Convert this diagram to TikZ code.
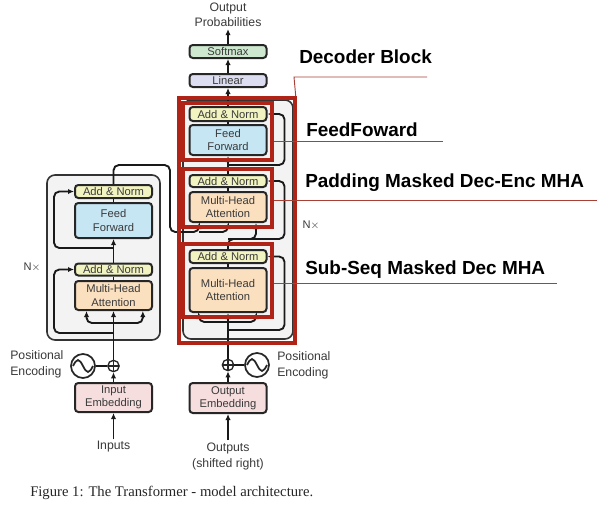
\documentclass[tikz,border=0pt]{standalone}
\usepackage{fontspec}
\setmainfont{Liberation Serif}
\setsansfont{Liberation Sans}
\usetikzlibrary{arrows.meta,positioning}
\definecolor{an_yellow}{RGB}{241,243,192}
\definecolor{ff_blue}{RGB}{198,230,244}
\definecolor{mha_orange}{RGB}{251,224,192}
\definecolor{emb_pink}{RGB}{246,222,222}
\definecolor{sm_green}{RGB}{206,232,208}
\definecolor{lin_purple}{RGB}{220,221,240}
\definecolor{stack_gray}{RGB}{243,243,243}
\definecolor{mark_red}{RGB}{176,36,24}
\definecolor{lead_red}{RGB}{168,64,54}
\definecolor{txt_gray}{RGB}{58,58,58}

\begin{document}
\begin{tikzpicture}[x=0.75pt, y=-0.75pt,
    blk/.style={draw=black!85, line width=1.5pt, rounded corners=2.5pt,
      minimum width=57.75pt, inner sep=0pt, align=center, text=txt_gray,
      font=\sffamily\fontsize{8.4}{9.8}\selectfont},
    hgt/.style={minimum height=#1*0.75pt},
    stack/.style={draw=black!80, fill=stack_gray, line width=1.2pt, rounded corners=6pt, inner sep=0pt},
    redbox/.style={draw=mark_red, line width=2.6pt, inner sep=0pt},
    conn/.style={line width=1.4pt, black!90, rounded corners=4pt},
    arr/.style={-{Latex[length=4.5pt,width=4pt]}},
    lbl/.style={text=txt_gray, align=center, inner sep=1.5pt, font=\sffamily\fontsize{9.2}{12}\selectfont},
    tag/.style={anchor=west, inner sep=0pt, font=\sffamily\bfseries\fontsize{14.2}{17}\selectfont},
    leader/.style={draw=lead_red, line width=0.7pt},
    wave/.style={circle, draw=black!85, line width=1.3pt, minimum size=18pt, inner sep=0pt},
    sine/.style={line width=1.3pt, black!85, sharp corners},
    addop/.style={circle, draw=black!85, line width=1pt, minimum size=8.5pt, inner sep=0pt,
      path picture={\draw[line width=0.9pt, black!85]
        (path picture bounding box.north) -- (path picture bounding box.south)
        (path picture bounding box.west) -- (path picture bounding box.east);}}]
  \useasboundingbox[fill=white] (0,0) rectangle (602,507);

  % stacks
  \node[stack, minimum width=84.75pt, minimum height=123.75pt] (encStack) at (103.5,257.5) {};
  \node[stack, minimum width=82.5pt, minimum height=179.25pt] (decStack) at (238,219.5) {};
  \node[text=txt_gray, font=\sffamily\fontsize{8.3}{10}\selectfont] (encN) at (32,267) {N$\times$};
  \node[text=txt_gray, font=\sffamily\fontsize{8.3}{10}\selectfont] (decN) at (311,225) {N$\times$};

  % encoder
  \node[blk, hgt=13, fill=an_yellow] (encAN2) at (113.5,191.5) {Add \& Norm};
  \node[blk, hgt=35, fill=ff_blue] (encFF) at (113.5,220.5) {Feed\\Forward};
  \node[blk, hgt=12, fill=an_yellow] (encAN1) at (113.5,269.5) {Add \& Norm};
  \node[blk, hgt=29, fill=mha_orange] (encMHA) at (113.5,295.5) {Multi-Head\\Attention};
  \node[blk, hgt=29, fill=emb_pink] (encEmb) at (113.5,397.5) {Input\\Embedding};
  \node[addop] (encAdd) at (113.5,366) {};
  \node[wave] (encPE) at (83,366) {};
  \node[lbl, align=left, anchor=west] (encPEtxt) at (8,364) {Positional\\Encoding};
  \node[lbl] (inTxt) at (113.5,447) {Inputs};

  % decoder
  \node[blk, hgt=13, fill=sm_green] (softmax) at (228,51.5) {Softmax};
  \node[blk, hgt=13, fill=lin_purple] (linear) at (228,80.5) {Linear};
  \node[blk, hgt=14, fill=an_yellow] (decAN3) at (228,114) {Add \& Norm};
  \node[blk, hgt=30, fill=ff_blue] (decFF) at (228,140) {Feed\\Forward};
  \node[blk, hgt=12, fill=an_yellow] (decAN2) at (228,181) {Add \& Norm};
  \node[blk, hgt=30, fill=mha_orange] (decMHA2) at (228,207) {Multi-Head\\Attention};
  \node[blk, hgt=13, fill=an_yellow] (decAN1) at (228,256.5) {Add \& Norm};
  \node[blk, hgt=44, fill=mha_orange] (decMHA1) at (228,290) {Multi-Head\\Attention};
  \node[blk, hgt=30, fill=emb_pink] (decEmb) at (228,398) {Output\\Embedding};
  \node[addop] (decAdd) at (228,365) {};
  \node[wave] (decPE) at (257,365) {};
  \node[lbl, align=left, anchor=west] (decPEtxt) at (275,365) {Positional\\Encoding};
  \node[lbl] (outTxt) at (228,456) {Outputs\\(shifted right)};
  \node[lbl, font=\sffamily\fontsize{9.2}{11.25}\selectfont] (probTxt) at (228,15) {Output\\Probabilities};

  % junctions
  \coordinate (encSplit) at (113.5,323);
  \coordinate (encRes1) at (113.5,333);
  \coordinate (encRes2) at (113.5,248);
  \coordinate (encTop) at (113.5,165);
  \coordinate (encCross) at (170,232);
  \coordinate (encKV) at (199,232);
  \coordinate (decQ) at (228,239);
  \coordinate (decSplit) at (228,322);
  \coordinate (decRes1) at (228,330);
  \coordinate (decRes3) at (228,165);

  % encoder connectors
  \draw[conn,arr] (inTxt.north) -- (encEmb.south);
  \draw[conn,arr] (encEmb.north) -- (encAdd.south);
  \draw[conn] (encPE) -- (encAdd);
  \draw[sine] ([xshift=-7.5pt]encPE.center) sin ++(5,-6) cos ++(5,6) sin ++(5,6) cos ++(5,-6);
  \draw[conn,arr] (encAdd.north) -- (encMHA.south);
  \draw[conn,arr] (encSplit) -| ([xshift=-20.25pt]encMHA.south);
  \draw[conn,arr] (encSplit) -| ([xshift=22pt]encMHA.south);
  \draw[conn,arr] (encRes1) -| ([xshift=-15pt]encAN1.west) -- (encAN1.west);
  \draw[conn] (encMHA.north) -- (encAN1.south);
  \draw[conn,arr] (encAN1.north) -- (encFF.south);
  \draw[conn,arr] (encRes2) -| ([xshift=-15pt]encAN2.west) -- (encAN2.west);
  \draw[conn] (encFF.north) -- (encAN2.south);
  \draw[conn,arr] (encAN2.north) -- (encTop) -| (encCross) -| ([xshift=-21.75pt]decMHA2.south);
  \draw[conn,arr] (encKV) -| (decMHA2.south);

  % decoder connectors
  \draw[conn,arr] (outTxt.north) -- (decEmb.south);
  \draw[conn,arr] (decEmb.north) -- (decAdd.south);
  \draw[conn] (decPE) -- (decAdd);
  \draw[sine] ([xshift=-7.5pt]decPE.center) sin ++(5,-6) cos ++(5,6) sin ++(5,6) cos ++(5,-6);
  \draw[conn,arr] (decAdd.north) -- (decMHA1.south);
  \draw[conn,arr] (decSplit) -| ([xshift=-21.75pt]decMHA1.south);
  \draw[conn,arr] (decSplit) -| ([xshift=21pt]decMHA1.south);
  \draw[conn,arr] (decRes1) -| ([xshift=12.75pt]decAN1.east) -- (decAN1.east);
  \draw[conn] (decMHA1.north) -- (decAN1.south);
  \draw[conn,arr] (decAN1.north) -- (decQ) -| ([xshift=21pt]decMHA2.south);
  \draw[conn,arr] (decQ) -| ([xshift=12.75pt]decAN2.east) -- (decAN2.east);
  \draw[conn] (decMHA2.north) -- (decAN2.south);
  \draw[conn,arr] (decAN2.north) -- (decFF.south);
  \draw[conn,arr] (decRes3) -| ([xshift=12.75pt]decAN3.east) -- (decAN3.east);
  \draw[conn] (decFF.north) -- (decAN3.south);
  \draw[conn,arr] (decAN3.north) -- (linear.south);
  \draw[conn,arr] (linear.north) -- (softmax.south);
  \draw[conn,arr] (softmax.north) -- (probTxt.south);

  % red marks
  \node[redbox, minimum width=66.75pt, minimum height=42.75pt] (redFF) at (227.5,131.5) {};
  \node[redbox, minimum width=66.75pt, minimum height=43.5pt] (redMHA2) at (227.5,198) {};
  \node[redbox, minimum width=66.75pt, minimum height=54.75pt] (redMHA1) at (227.5,280.5) {};
  \node[redbox, minimum width=87pt, minimum height=183.75pt] (redDec) at (237,220.5) {};

  % labels
  \node[tag] (tagDec) at (299,57) {Decoder Block};
  \node[tag] (tagFF) at (306,130) {FeedFoward};
  \node[tag] (tagMHA2) at (305,183) {Padding Masked Dec-Enc MHA};
  \node[tag] (tagMHA1) at (305,270) {Sub-Seq Masked Dec MHA};
  \coordinate (decCorner) at (294,77);
  \coordinate (decEnd) at (427,77);
  \coordinate (ffEnd) at (443,141);
  \coordinate (mha2End) at (597,200);
  \coordinate (mha1End) at (557,283);
  \draw[leader] ([xshift=-0.75pt]redDec.north east) -- (decCorner) -- (decEnd);
  \draw[leader] (redFF.east |- ffEnd) -- (ffEnd);
  \draw[leader] (redMHA2.east |- mha2End) -- (mha2End);
  \draw[leader] (redMHA1.east |- mha1End) -- (mha1End);

  \node[anchor=west, inner sep=0pt, text=black!85, font=\rmfamily\fontsize{11}{13}\selectfont] (caption) at (30,493)
    {Figure 1: The Transformer - model architecture.};
\end{tikzpicture}
\end{document}
